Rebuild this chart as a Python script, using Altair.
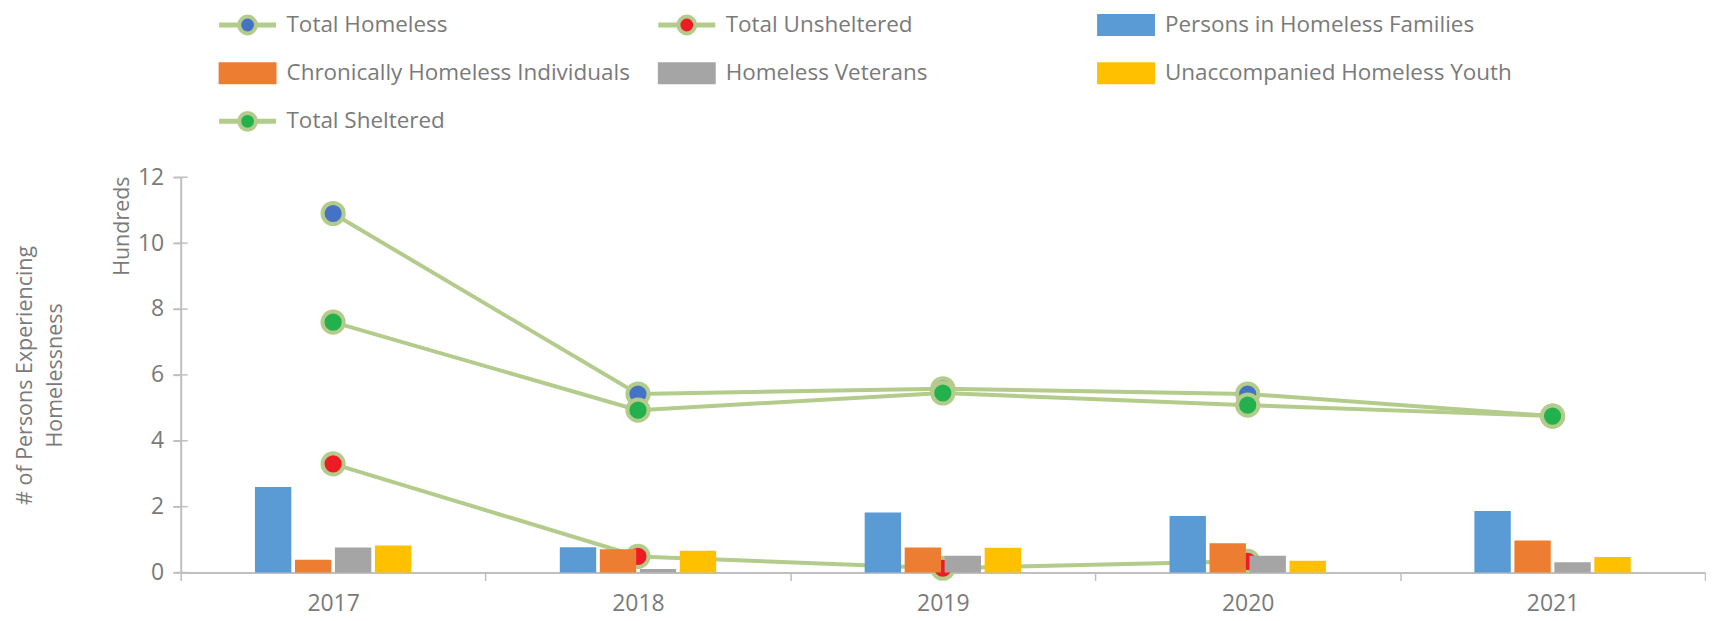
import altair as alt
import pandas as pd

# ---- data (values in hundreds of persons) ----
years = ["2017", "2018", "2019", "2020", "2021"]
total_homeless = [10.9, 5.42, 5.58, 5.42, 4.75]
total_unsheltered = [3.3, 0.49, 0.13, 0.34, None]
total_sheltered = [7.6, 4.93, 5.45, 5.08, 4.75]
persons_in_families = [2.6, 0.77, 1.82, 1.72, 1.87]
chronically_homeless = [0.39, 0.71, 0.76, 0.89, 0.97]
homeless_veterans = [0.76, 0.11, 0.51, 0.51, 0.31]
unaccompanied_youth = [0.82, 0.66, 0.75, 0.36, 0.47]
y_ticks = [0, 2, 4, 6, 8, 10, 12]

line_series = ["Total Homeless", "Total Unsheltered", "Total Sheltered"]
bar_series = ["Persons in Homeless Families", "Chronically Homeless Individuals",
              "Homeless Veterans", "Unaccompanied Homeless Youth"]
legend_order = ["Total Homeless", "Total Unsheltered", "Persons in Homeless Families",
                "Chronically Homeless Individuals", "Homeless Veterans",
                "Unaccompanied Homeless Youth", "Total Sheltered"]
series_colors = ["#4472C4", "#ED1C24", "#5B9BD5", "#ED7D31", "#A5A5A5", "#FFC000", "#22B14C"]

GREEN = "#B3CB8B"
AXIS = "#BFBFBF"
TEXT = "#7A7A7A"
FONT = "Open Sans"

line_values = {"Total Homeless": total_homeless, "Total Unsheltered": total_unsheltered,
               "Total Sheltered": total_sheltered}
bar_values = {"Persons in Homeless Families": persons_in_families,
              "Chronically Homeless Individuals": chronically_homeless,
              "Homeless Veterans": homeless_veterans,
              "Unaccompanied Homeless Youth": unaccompanied_youth}

line_rows = []
for z, s in enumerate(line_series):
    for y, v in zip(years, line_values[s]):
        if v is not None:
            line_rows.append({"year": y, "series": s, "value": v, "z": z})
line_df = pd.DataFrame(line_rows)

bar_rows = []
for s in bar_series:
    for y, v in zip(years, bar_values[s]):
        bar_rows.append({"year": y, "series": s, "value": v})
bar_df = pd.DataFrame(bar_rows)

color_scale = alt.Scale(domain=legend_order, range=series_colors)
offset_domain = ["_left"] + bar_series + ["_right"]

x_enc = alt.X("year:N", sort=years, title=None,
              scale=alt.Scale(type="band", paddingInner=0, paddingOuter=0),
              axis=alt.Axis(labelFont=FONT, labelFontSize=23, labelColor=TEXT,
                            labelPadding=12, tickBand="extent", tickSize=8,
                            tickColor=AXIS, tickWidth=1.5, domainColor=AXIS,
                            domainWidth=2, labelAngle=0))
y_enc = alt.Y("value:Q", scale=alt.Scale(domain=[0, 12], nice=False),
              axis=alt.Axis(values=y_ticks, grid=False,
                            labelFont=FONT, labelFontSize=23, labelColor=TEXT,
                            labelPadding=9, tickSize=8, tickColor=AXIS,
                            tickWidth=1.5, domainColor=AXIS, domainWidth=2,
                            title=["# of Persons Experiencing", "Homelessness"],
                            titleFont=FONT, titleFontSize=21.5, titleFontWeight="normal",
                            titleColor=TEXT, titleAngle=-90, titleX=-155.5, titleY=198,
                            titleAlign="center", titleBaseline="middle",
                            titleLineHeight=30))

lines = alt.Chart(line_df).mark_line(color=GREEN, strokeWidth=4).encode(
    x=x_enc, y=y_enc, detail="series:N")

points = alt.Chart(line_df).mark_circle(size=450, opacity=1, stroke=GREEN, strokeWidth=4).encode(
    x=alt.X("year:N", sort=years), y="value:Q",
    color=alt.Color("series:N", scale=color_scale, legend=None),
    order=alt.Order("z:Q"))

bars = alt.Chart(bar_df).mark_bar().encode(
    x=alt.X("year:N", sort=years),
    xOffset=alt.XOffset("series:N",
                        scale=alt.Scale(domain=offset_domain, paddingInner=0.09, paddingOuter=0.857)),
    y="value:Q",
    color=alt.Color("series:N", scale=color_scale, legend=None))

# inner half of the crossing y-axis tick marks
inner_ticks = alt.Chart(pd.DataFrame({"v": y_ticks})).mark_tick(
    orient="horizontal", size=14, thickness=1.5, color=AXIS, opacity=1
).encode(y="v:Q", x=alt.value(0))

unit = alt.Chart(pd.DataFrame({"t": ["Hundreds"]})).mark_text(
    angle=270, font=FONT, fontSize=21.5, color=TEXT, align="center", baseline="middle"
).encode(text="t:N", x=alt.value(-58), y=alt.value(49))

main = alt.layer(lines, points, bars, inner_ticks, unit).properties(width=1527, height=396)

# ---- legend ----
leg_df = pd.DataFrame({
    "label": legend_order,
    "col": [i % 3 for i in range(len(legend_order))],
    "row": [i // 3 for i in range(len(legend_order))],
    "kind": ["line" if s in line_series else "bar" for s in legend_order],
})
lx = alt.X("col:Q", scale=alt.Scale(domain=[0, 2], range=[67, 947]), axis=None)
ly = alt.Y("row:Q", scale=alt.Scale(domain=[0, 2], range=[12.5, 109]), axis=None)
lbase = alt.Chart(leg_df).encode(x=lx, y=ly)

leg_line = lbase.transform_filter(alt.datum.kind == "line").mark_tick(
    orient="horizontal", size=57, thickness=5, color=GREEN, opacity=1)
leg_dot = lbase.transform_filter(alt.datum.kind == "line").mark_circle(
    size=283, opacity=1, stroke=GREEN, strokeWidth=4).encode(
    color=alt.Color("label:N", scale=color_scale, legend=None))
leg_rect = lbase.transform_filter(alt.datum.kind == "bar").mark_point(
    shape="M-1,-0.379H1V0.379H-1Z", size=3364, filled=True, opacity=1).encode(
    color=alt.Color("label:N", scale=color_scale, legend=None))
leg_text = lbase.mark_text(align="left", baseline="middle", dx=39, font=FONT,
                           fontSize=22.5, color=TEXT).encode(text="label:N")

legend = alt.layer(leg_line, leg_dot, leg_rect, leg_text).properties(width=1527, height=154)

chart = alt.vconcat(legend, main, spacing=0).configure_view(stroke=None).properties(
    padding={"left": 6, "top": 0, "right": 0, "bottom": 5})

chart.save("out.html", embed_options={"renderer": "svg", "actions": False})
